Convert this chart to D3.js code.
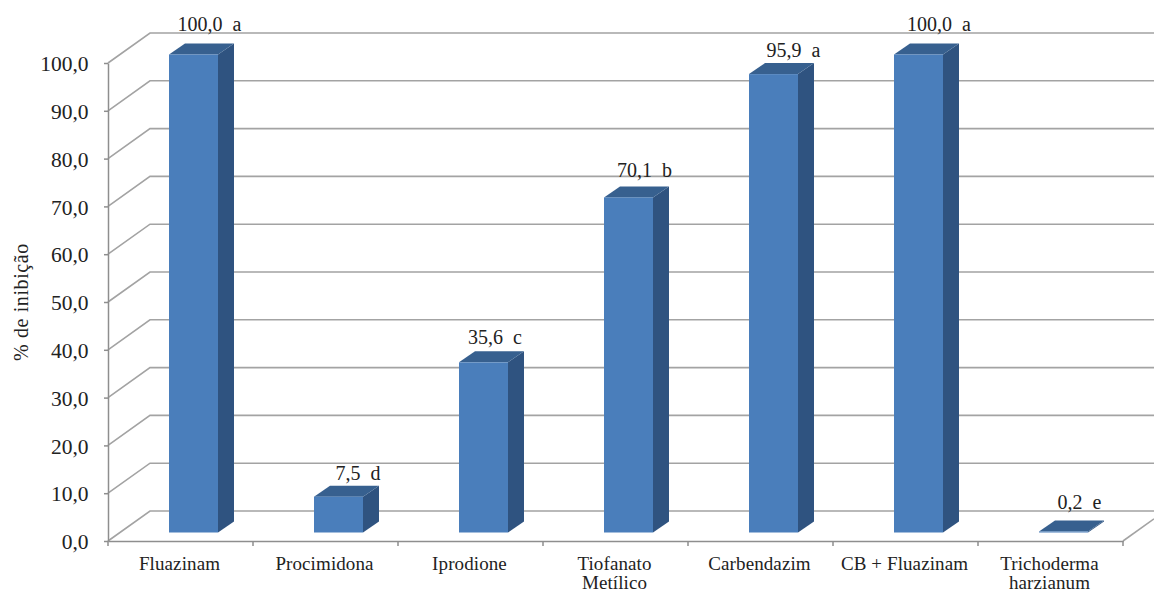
<!DOCTYPE html>
<html>
<head>
<meta charset="utf-8">
<script src="https://cdn.jsdelivr.net/npm/d3@7"></script>
<style>
  html, body { margin: 0; background: #fff; }
  text { font-family: "Liberation Serif", serif; fill: #222; }
  .tick line, .domain { stroke: #8e8e8e; stroke-width: 1.5px; }
</style>
</head>
<body>
<svg id="chart" width="1154" height="592"></svg>
<script>
// Data
var categories = ["Fluazinam", "Procimidona", "Iprodione", "Tiofanato Metílico", "Carbendazim", "CB + Fluazinam", "Trichoderma harzianum"];
var values = [100.0, 7.5, 35.6, 70.1, 95.9, 100.0, 0.2];
var letters = ["a", "d", "c", "b", "a", "a", "e"];
var yTicks = [0, 10, 20, 30, 40, 50, 60, 70, 80, 90, 100];

// Layout of the 3D box
var left = 108, right = 1123, bottom = 541, top100 = 63;
var wallDx = 42, wallDy = -30;
var barInset = 61, barWidth = 49, barLift = 8.5, barDx = 16, barDy = -11;

// hand placed data labels: shift from the bar top
var labelShiftX = [40.5, 44, 36, 40.5, 44.5, 45, 40.5];
var labelGap = [12.6, 5.6, 7.3, 9.5, 6, 12.6, 11.5];

var svg = d3.select("#chart");
var comma = function(v){ return d3.format(".1f")(v).replace(".", ","); };

var x = d3.scaleBand().domain(categories).range([left, right]);
var y = d3.scaleLinear().domain([0, 100]).range([bottom, top100]);

drawWalls();
drawAxes();
drawBars();

function drawWalls(){
    var g = svg.append("g")
        .attr("fill", "none")
        .attr("stroke", "#a3a3a3")
        .attr("stroke-width", 1.6);

    // side wall and back wall gridlines
    g.selectAll("path.grid").data(yTicks).enter().append("path")
        .attr("class", "grid")
        .attr("d", function(d){
            return d3.line()([
                [left, y(d)],
                [left + wallDx, y(d) + wallDy],
                [1154, y(d) + wallDy]
            ]);
        });

    // right edge of the floor
    g.append("path")
        .attr("d", d3.line()([[right, bottom], [1154, bottom + (1154 - right) * wallDy / wallDx]]));
    return 0;
}

function drawAxes(){
    var yAxis = d3.axisLeft(y).tickValues(yTicks).tickFormat(comma).tickSize(4).tickSizeOuter(0);
    var yG = svg.append("g").attr("transform", "translate(" + left + ",0)").call(yAxis);
    yG.selectAll("text")
        .attr("x", -19.5)
        .attr("dy", "0.36em")
        .style("font-size", "21.5px");

    var xAxis = d3.axisBottom(x).tickSize(0).tickSizeOuter(0);
    var xG = svg.append("g").attr("transform", "translate(0," + bottom + ")").call(xAxis);
    xG.selectAll(".tick text").remove();
    xG.selectAll(".tick line").remove();

    // ticks sit on the band edges, not the centres
    xG.selectAll("line.edge").data(categories.concat(["end"])).enter().append("line")
        .attr("class", "edge")
        .attr("stroke", "#8e8e8e")
        .attr("stroke-width", 1.5)
        .attr("x1", function(d, i){ return left + i * x.step(); })
        .attr("x2", function(d, i){ return left + i * x.step(); })
        .attr("y1", 0)
        .attr("y2", 5);

    // category names, wrapped after the first word when they are long
    var labels = xG.selectAll("text.cat").data(categories).enter().append("text")
        .attr("class", "cat")
        .attr("text-anchor", "middle")
        .style("font-size", "19px")
        .style("letter-spacing", "0.1px")
        .attr("x", function(d){ return x(d) + x.step() / 2 - 1; });
    labels.each(function(d){
        var lines = (d === "CB + Fluazinam") ? [d] : d.split(" ");
        var t = d3.select(this);
        lines.forEach(function(line, i){
            t.append("tspan")
                .attr("x", t.attr("x"))
                .attr("y", 29 + i * 19)
                .text(line);
        });
    });

    svg.append("text")
        .attr("transform", "translate(28,302) rotate(-90)")
        .attr("text-anchor", "middle")
        .style("font-size", "20px")
        .style("letter-spacing", "0.6px")
        .text("% de inibição");
    return 0;
}

function drawBars(){
    var bars = svg.selectAll("g.bar").data(categories).enter().append("g").attr("class", "bar");

    function xL(d){ return x(d) + barInset; }
    function yT(i){ return y(values[i]) - barLift; }
    var yB = y(0) - barLift;

    // side face
    bars.append("path")
        .attr("fill", "#2f5380")
        .attr("d", function(d, i){
            var r = xL(d) + barWidth;
            return d3.line()([[r, yT(i)], [r + barDx, yT(i) + barDy], [r + barDx, yB + barDy], [r, yB]]) + "Z";
        });

    // top face
    bars.append("path")
        .attr("fill", "#37608f")
        .attr("d", function(d, i){
            var l = xL(d);
            return d3.line()([[l, yT(i)], [l + barDx, yT(i) + barDy], [l + barWidth + barDx, yT(i) + barDy], [l + barWidth, yT(i)]]) + "Z";
        });

    // front face
    bars.append("rect")
        .attr("fill", "#4a7ebb")
        .attr("x", xL)
        .attr("y", function(d, i){ return yT(i); })
        .attr("width", barWidth)
        .attr("height", function(d, i){ return yB - yT(i); });

    // value and significance letter
    bars.append("text")
        .attr("text-anchor", "middle")
        .style("font-size", "20px")
        .style("white-space", "pre")
        .attr("x", function(d, i){ return xL(d) + labelShiftX[i]; })
        .attr("y", function(d, i){ return yT(i) + barDy - labelGap[i]; })
        .text(function(d, i){ return comma(values[i]) + "  " + letters[i]; });
    return 0;
}
</script>
</body>
</html>
